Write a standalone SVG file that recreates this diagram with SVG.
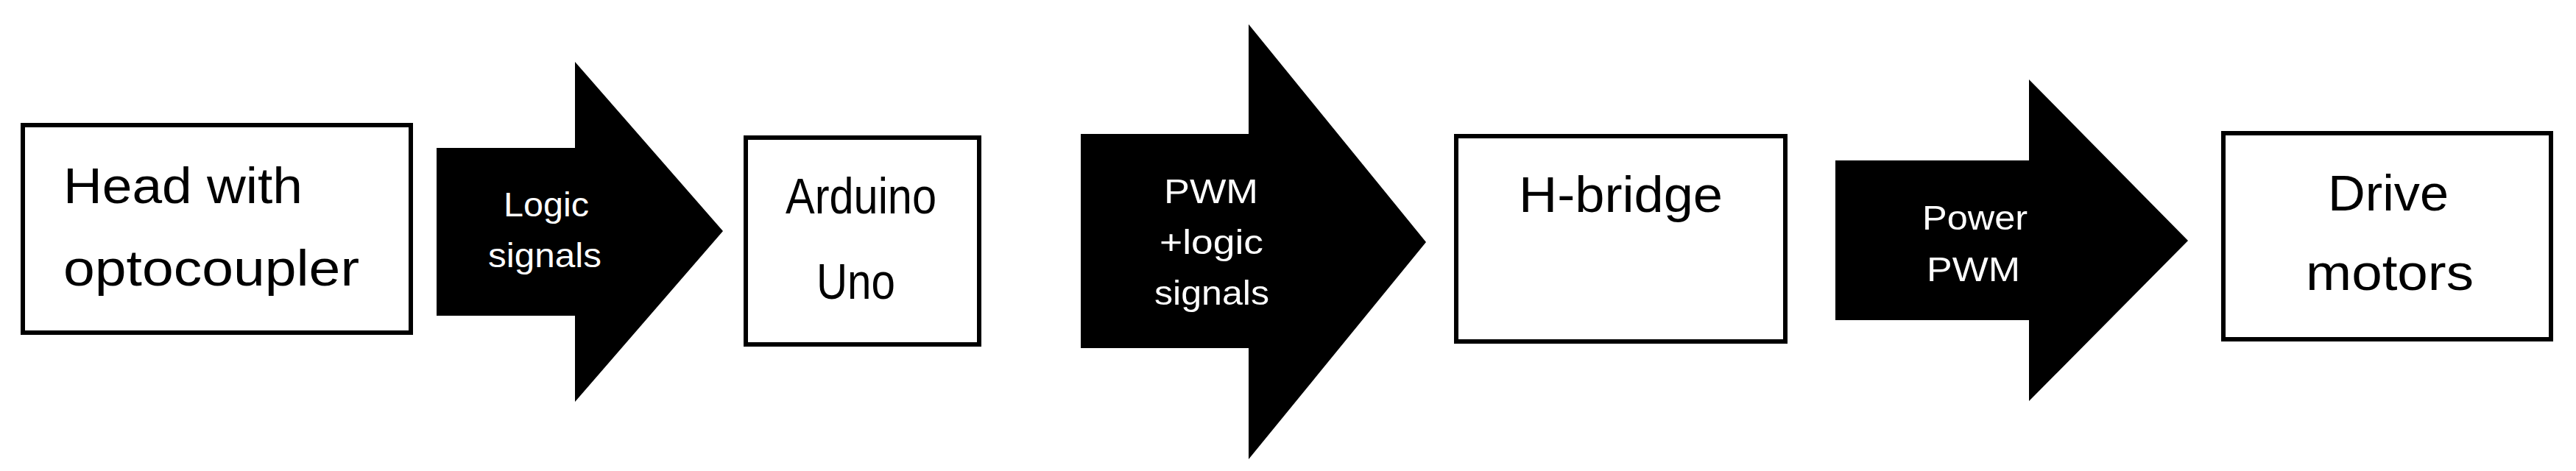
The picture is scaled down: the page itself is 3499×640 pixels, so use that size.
<svg xmlns="http://www.w3.org/2000/svg" width="3499" height="640" viewBox="0 0 3499 640">
<style>
.box{fill:#fff;stroke:#000;stroke-width:6}
.arr{fill:#000}
.t{font-family:"Liberation Sans",Arial,sans-serif;font-size:68px;fill:#000}
.w{font-family:"Liberation Sans",Arial,sans-serif;font-size:46px;fill:#fff}
</style>
<rect width="3499" height="640" fill="#fff"/>
<g id="connectors">
<polygon class="arr" points="593,201 781,201 781,84 982,314 781,546 781,429 593,429"/>
<polygon class="arr" points="1468,182 1696,182 1696,33 1937,329 1696,624 1696,473 1468,473"/>
<polygon class="arr" points="2493,218 2756,218 2756,108 2972,327 2756,545 2756,435 2493,435"/>
<text class="w" x="684" y="294" textLength="116" lengthAdjust="spacingAndGlyphs">Logic</text>
<text class="w" x="663" y="363" textLength="154" lengthAdjust="spacingAndGlyphs">signals</text>
<text class="w" x="1581" y="276" textLength="128" lengthAdjust="spacingAndGlyphs">PWM</text>
<text class="w" x="1575" y="345" textLength="141" lengthAdjust="spacingAndGlyphs">+logic</text>
<text class="w" x="1568" y="414" textLength="156" lengthAdjust="spacingAndGlyphs">signals</text>
<text class="w" x="2611" y="312" textLength="143" lengthAdjust="spacingAndGlyphs">Power</text>
<text class="w" x="2617" y="382" textLength="127" lengthAdjust="spacingAndGlyphs">PWM</text>
</g>
<g id="head">
<rect class="box" x="31" y="170" width="527" height="282"/>
<text class="t" x="86" y="276" textLength="325" lengthAdjust="spacingAndGlyphs">Head with</text>
<text class="t" x="86" y="388" textLength="402" lengthAdjust="spacingAndGlyphs">optocoupler</text>
</g>
<g id="arduino">
<rect class="box" x="1013" y="187" width="317" height="281"/>
<text class="t" x="1067" y="290" textLength="205" lengthAdjust="spacingAndGlyphs">Arduino</text>
<text class="t" x="1109" y="406" textLength="107" lengthAdjust="spacingAndGlyphs">Uno</text>
</g>
<g id="hbridge">
<rect class="box" x="1978" y="185" width="447" height="279"/>
<text class="t" x="2063" y="288" textLength="277" lengthAdjust="spacingAndGlyphs">H-bridge</text>
</g>
<g id="motors">
<rect class="box" x="3020" y="181" width="445" height="280"/>
<text class="t" x="3162" y="286" textLength="164" lengthAdjust="spacingAndGlyphs">Drive</text>
<text class="t" x="3132" y="394" textLength="228" lengthAdjust="spacingAndGlyphs">motors</text>
</g>
</svg>
